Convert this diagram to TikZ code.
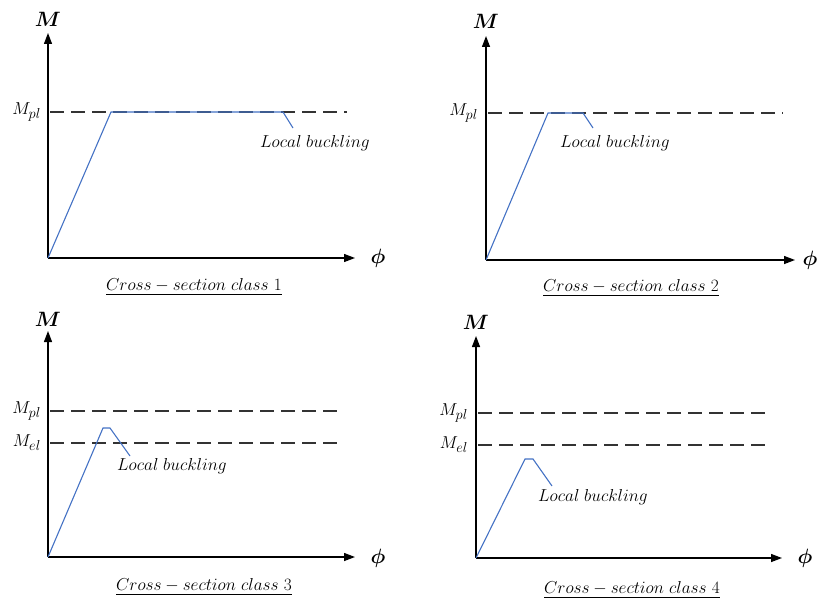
\documentclass[tikz,border=0pt]{standalone}
\usepackage{amsmath,amsbsy}
\usetikzlibrary{arrows.meta}
\definecolor{curveblue}{RGB}{68,114,196}
\begin{document}
\begin{tikzpicture}[x=1pt,y=-1pt,
  axis/.style={line width=1.3pt,-{Triangle[length=11pt,width=8pt]}},
  refline/.style={line width=1.1pt,black!80,dash pattern=on 14pt off 7pt},
  curve/.style={line width=1.1pt,curveblue},
  lbl/.style={inner sep=0pt,font=\fontsize{16}{19}\selectfont},
  axlbl/.style={inner sep=0pt,font=\fontsize{21}{24}\selectfont},
  mlbl/.style={inner sep=0pt,anchor=east,font=\fontsize{19}{22}\selectfont},
  captext/.style={inner sep=0pt,font=\fontsize{17.3}{20}\selectfont}]
\useasboundingbox (0,0) rectangle (818,599);
\clip (0,0) rectangle (818,599);
% ---------- Panel 1
\coordinate (o1) at (48,258);
\coordinate (y1) at (48,33);
\coordinate (x1) at (355,258);
\draw[axis] (o1) -- (y1);
\draw[axis] (o1) -- (x1);
\node[axlbl] (m1) at (48,19) {$\boldsymbol{M}$};
\node[axlbl] (f1) at (378,258) {$\boldsymbol{\phi}$};
\coordinate (p1a) at (50,112);
\coordinate (p1b) at (347,112);
\draw[refline] (p1a) -- (p1b);
\node[mlbl] (mpl1) at (41,112) {$M_{pl}$};
\coordinate (c1a) at (111,112);
\coordinate (c1b) at (283,112);
\coordinate (c1c) at (293,128);
\draw[curve] (o1) -- (c1a) -- (c1b) -- (c1c);
\node[lbl] (lb1) at (315,143) {$Local\ buckling$};
\node[captext] (cap1) at (194,287) {\underline{$Cross - section\ class\ 1$}};
% ---------- Panel 2
\coordinate (o2) at (486,260);
\coordinate (y2) at (486,36);
\coordinate (x2) at (795,260);
\draw[axis] (o2) -- (y2);
\draw[axis] (o2) -- (x2);
\node[axlbl] (m2) at (486,21) {$\boldsymbol{M}$};
\node[axlbl] (f2) at (810,260) {$\boldsymbol{\phi}$};
\coordinate (p2a) at (488,113);
\coordinate (p2b) at (783,113);
\draw[refline] (p2a) -- (p2b);
\node[mlbl] (mpl2) at (478,113) {$M_{pl}$};
\coordinate (c2a) at (548,113);
\coordinate (c2b) at (583,113);
\coordinate (c2c) at (593,128);
\draw[curve] (o2) -- (c2a) -- (c2b) -- (c2c);
\node[lbl] (lb2) at (615,143) {$Local\ buckling$};
\node[captext] (cap2) at (631,288) {\underline{$Cross - section\ class\ 2$}};
% ---------- Panel 3
\coordinate (o3) at (48,557);
\coordinate (y3) at (48,331);
\coordinate (x3) at (355,557);
\draw[axis] (o3) -- (y3);
\draw[axis] (o3) -- (x3);
\node[axlbl] (m3) at (48,319) {$\boldsymbol{M}$};
\node[axlbl] (f3) at (378,558) {$\boldsymbol{\phi}$};
\coordinate (p3a) at (50,411);
\coordinate (p3b) at (343,411);
\coordinate (e3a) at (50,443);
\coordinate (e3b) at (343,443);
\draw[refline] (p3a) -- (p3b);
\draw[refline] (e3a) -- (e3b);
\node[mlbl] (mpl3) at (41,411) {$M_{pl}$};
\node[mlbl] (mel3) at (41,443) {$M_{el}$};
\coordinate (c3a) at (103,428);
\coordinate (c3b) at (110,428);
\coordinate (c3c) at (130,456);
\draw[curve] (o3) -- (c3a) -- (c3b) -- (c3c);
\node[lbl] (lb3) at (172,466) {$Local\ buckling$};
\node[captext] (cap3) at (204,587) {\underline{$Cross - section\ class\ 3$}};
% ---------- Panel 4
\coordinate (o4) at (476,558);
\coordinate (y4) at (476,336);
\coordinate (x4) at (782,558);
\draw[axis] (o4) -- (y4);
\draw[axis] (o4) -- (x4);
\node[axlbl] (m4) at (476,322) {$\boldsymbol{M}$};
\node[axlbl] (f4) at (805,558) {$\boldsymbol{\phi}$};
\coordinate (p4a) at (478,413);
\coordinate (p4b) at (772,413);
\coordinate (e4a) at (478,445);
\coordinate (e4b) at (772,445);
\draw[refline] (p4a) -- (p4b);
\draw[refline] (e4a) -- (e4b);
\node[mlbl] (mpl4) at (468,413) {$M_{pl}$};
\node[mlbl] (mel4) at (468,445) {$M_{el}$};
\coordinate (c4a) at (525,459);
\coordinate (c4b) at (533,459);
\coordinate (c4c) at (552,486);
\draw[curve] (o4) -- (c4a) -- (c4b) -- (c4c);
\node[lbl] (lb4) at (593,497) {$Local\ buckling$};
\node[captext] (cap4) at (632,590) {\underline{$Cross - section\ class\ 4$}};
\end{tikzpicture}
\end{document}
